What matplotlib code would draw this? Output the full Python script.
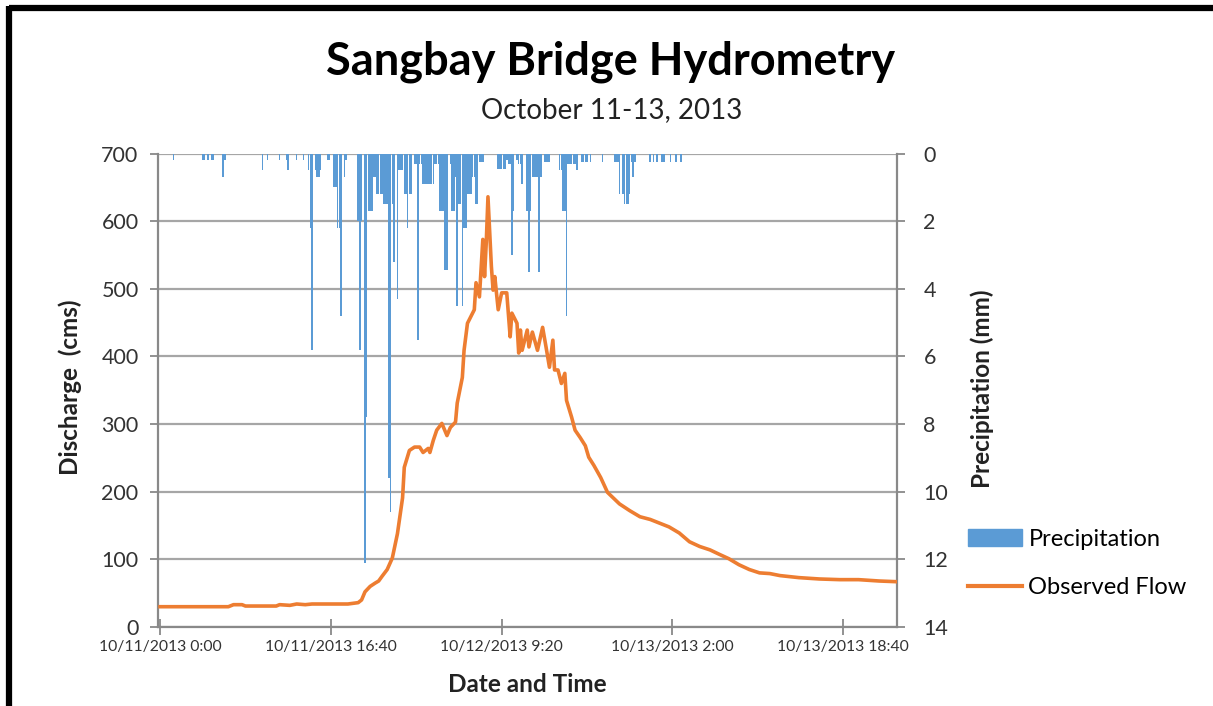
import matplotlib
matplotlib.use("Agg")
import matplotlib.pyplot as plt
from matplotlib.patches import Patch
from matplotlib.lines import Line2D
import numpy as np

plt.rcParams['font.family'] = ['Lato', 'DejaVu Sans']

# ---- data (10-minute steps from 10/11/2013 0:00; 432 steps) ----
n_steps = 432
tick_idx = [0, 100, 200, 300, 400]
tick_labels = ["10/11/2013 0:00", "10/11/2013 16:40", "10/12/2013 9:20",
               "10/13/2013 2:00", "10/13/2013 18:40"]

# precipitation (mm) at step indices (others are zero)
precip_idx = [8, 25, 26, 28, 30, 31, 37, 38, 60, 63, 70, 74, 75, 80, 84, 87, 88, 89,
              91, 92, 93, 94, 98, 99, 102, 103, 104, 105, 106, 108, 109,
              116, 117, 118, 120, 121, 122, 123, 124, 125, 126, 127, 128, 129, 130,
              131, 132, 133, 134, 135, 136, 137, 139, 140, 141, 142,
              143, 144, 145, 146, 147, 149, 150, 151, 152, 153, 154, 155, 156, 157,
              158, 159, 160, 161, 162, 163, 164, 165, 166, 167, 168, 170, 171, 172, 173,
              174, 175, 176, 177, 178, 179, 180, 181, 182, 183, 184, 185, 186, 187, 188, 189,
              198, 199, 200, 201, 202, 203, 204, 205, 206, 207, 209, 210, 211, 212,
              215, 216, 217, 218, 219, 220, 221, 222, 223, 225, 226, 227, 228,
              234, 235, 236, 237, 238, 239, 240, 241, 242, 243, 244, 247, 248, 249, 250, 252,
              259, 266, 267, 268, 269, 271, 272, 273, 274, 275, 276, 277, 278,
              287, 289, 291, 294, 295, 299, 302, 305]
precip_mm = [0.2, 0.2, 0.2, 0.2, 0.2, 0.2, 0.7, 0.2, 0.5, 0.2, 0.2, 0.2, 0.5, 0.2, 0.2, 0.5, 2.2, 5.8,
             0.5, 0.7, 0.7, 0.5, 0.2, 0.2, 1.0, 1.0, 2.2, 2.2, 4.8, 0.7, 0.2,
             2.0, 5.8, 2.0, 12.1, 7.8, 1.7, 1.7, 1.7, 0.7, 0.7, 1.2, 1.2, 1.2, 1.2,
             1.5, 1.5, 1.5, 9.6, 10.6, 1.5, 3.2, 4.3, 0.5, 0.5, 0.5,
             1.2, 1.2, 2.2, 1.2, 1.2, 0.3, 0.3, 5.5, 0.3, 0.3, 0.9, 0.9, 0.9, 0.9,
             0.9, 0.9, 0.9, 0.3, 0.3, 0.3, 1.7, 1.7, 1.7, 3.45, 3.45, 0.3, 1.7, 1.7, 0.7,
             4.5, 1.5, 1.5, 4.5, 2.2, 2.2, 1.2, 1.2, 1.2, 0.7, 0.7, 1.5, 1.5, 0.25, 0.25, 0.25,
             0.45, 0.45, 0.45, 0.45, 0.45, 0.2, 0.3, 0.3, 3.0, 1.7, 0.2, 0.3, 0.3, 0.9,
             1.7, 3.5, 1.7, 0.7, 0.7, 0.7, 0.7, 3.5, 0.7, 0.25, 0.25, 0.25, 0.25,
             0.5, 0.5, 1.7, 1.7, 4.8, 0.3, 0.3, 0.3, 0.3, 0.3, 0.5, 0.25, 0.25, 0.25, 0.25, 0.25,
             0.25, 0.25, 0.25, 0.25, 1.2, 1.2, 1.5, 1.5, 1.5, 1.2, 0.25, 0.7, 0.25,
             0.25, 0.25, 0.25, 0.25, 0.25, 0.25, 0.25, 0.25]

# observed flow (cms) read at step indices
flow_idx = [0, 40, 43, 48, 50, 68, 70, 76, 80, 85, 89, 110, 116, 118, 120, 123, 126, 128,
            130, 133, 136, 139, 142, 143, 146, 149, 152, 154, 157, 158, 160, 162, 165, 168,
            170, 173, 174, 177, 178, 180, 182, 184, 185, 187, 189, 190, 191, 192, 194, 195,
            196, 198, 200, 203, 205, 206, 209, 210, 211, 212, 215, 216, 218, 221, 224, 226,
            228, 230, 231, 233, 235, 237, 238, 241, 243, 246, 249, 251, 254, 258, 262, 269,
            275, 281, 287, 292, 298, 304, 310, 316, 322, 327, 333, 339, 345, 351, 357, 363,
            374, 386, 398, 409, 421, 431]
flow_cms = [30, 30, 33, 33, 31, 31, 33, 32, 34, 33, 34, 34, 36, 40, 52, 60, 65, 68,
            75, 85, 102, 138, 191, 236, 261, 266, 266, 258, 264, 258, 276, 291, 301, 283,
            295, 303, 331, 369, 409, 449, 459, 469, 509, 488, 573, 518, 568, 636, 533, 498,
            518, 469, 494, 494, 429, 464, 449, 405, 439, 409, 439, 414, 436, 409, 443, 414,
            384, 424, 380, 380, 360, 375, 335, 310, 291, 280, 268, 251, 239, 221, 199, 182,
            172, 163, 159, 154, 148, 139, 126, 119, 114, 108, 101, 92, 85, 80, 79, 76,
            73, 71, 70, 70, 68, 67]

# ---- figure ----
W, H = 1213, 706
fig = plt.figure(figsize=(W / 100, H / 100), dpi=100)
fig.patch.set_facecolor('white')

left, right, top, bottom = 158, 897, 153.5, 627
pos = [left / W, 1 - bottom / H, (right - left) / W, (bottom - top) / H]

blue = '#5B9BD5'
orange = '#ED7D31'
grid_c = '#A6A6A6'
spine_c = '#898989'
txt_c = '#000000'

ax2 = fig.add_axes(pos)          # precipitation (right axis), drawn below
ax = fig.add_axes(pos, sharex=ax2)  # discharge (left axis), drawn above
ax.set_zorder(2)
ax.patch.set_visible(False)
ax2.set_zorder(1)

precip = np.zeros(n_steps)
precip[np.array(precip_idx)] = precip_mm
steps = np.arange(n_steps)
nz = precip > 0
ax2.bar(steps[nz], precip[nz], width=0.9, color=blue, linewidth=0, zorder=2)
ax2.set_ylim(14, 0)
ax2.set_yticks(np.arange(0, 15, 2))
ax2.yaxis.tick_right()
ax2.grid(axis='y', color=grid_c, linewidth=1.6, zorder=0)
ax2.set_axisbelow(True)
ax2.tick_params(axis='y', which='both', direction='out', length=6, width=1.3,
                color=spine_c, labelsize=15.5, pad=13, labelcolor='#333333')
ax2.tick_params(axis='x', bottom=False, labelbottom=False)

ax.plot(flow_idx, flow_cms, color=orange, linewidth=2.6, solid_joinstyle='round', zorder=3)
ax.set_ylim(0, 700)
ax.set_yticks(np.arange(0, 701, 100))
ax.set_xlim(-1.2, 431.5)
ax.set_xticks(tick_idx)
ax.set_xticklabels(tick_labels)
ax.tick_params(axis='y', direction='out', length=6, width=1.3, color=spine_c,
               labelsize=15.5, pad=8, labelcolor='#333333')
ax.tick_params(axis='x', direction='inout', length=12, width=1.3, color=spine_c,
               labelsize=11.3, pad=3, labelcolor='#333333')

for a in (ax, ax2):
    for s in a.spines.values():
        s.set_visible(False)
for s in ('left', 'right', 'bottom'):
    ax.spines[s].set_visible(True)
    ax.spines[s].set_color(spine_c)
    ax.spines[s].set_linewidth(1.6)

# texts
fig.text(611 / W, 1 - 62 / H, "Sangbay Bridge Hydrometry", ha='center', va='center',
         fontsize=32.5, fontweight='bold', color=txt_c)
fig.text(612 / W, 1 - 110 / H, "October 11-13, 2013", ha='center', va='center',
         fontsize=20, color='#222222')
fig.text(70 / W, 1 - 387 / H, "Discharge  (cms)", ha='center', va='center',
         rotation=90, fontsize=17.5, fontweight='bold', color='#222222')
fig.text(982 / W, 1 - 389 / H, "Precipitation (mm)", ha='center', va='center',
         rotation=90, fontsize=17.5, fontweight='bold', color='#222222')
fig.text(527 / W, 1 - 685 / H, "Date and Time", ha='center', va='center',
         fontsize=17.5, fontweight='bold', color='#222222')

handles = [Patch(facecolor=blue, edgecolor=blue),
           Line2D([0], [0], color=orange, linewidth=3.0)]
fig.legend(handles, ["Precipitation", "Observed Flow"], loc='upper left',
           bbox_to_anchor=(968 / W, 1 - 529 / H), frameon=False, fontsize=17,
           handlelength=2.3, handleheight=0.72, handletextpad=0.26, labelspacing=1.15,
           borderpad=0, borderaxespad=0)

# outer black border (top and left)
fig.add_artist(Line2D([9 / W, 1.0], [1 - 8 / H, 1 - 8 / H], color='black',
                      linewidth=4.5, transform=fig.transFigure, solid_capstyle='butt'))
fig.add_artist(Line2D([9 / W, 9 / W], [1 - 6 / H, 0.0], color='black',
                      linewidth=4.5, transform=fig.transFigure, solid_capstyle='butt'))

fig.savefig("out.png", dpi=100)
